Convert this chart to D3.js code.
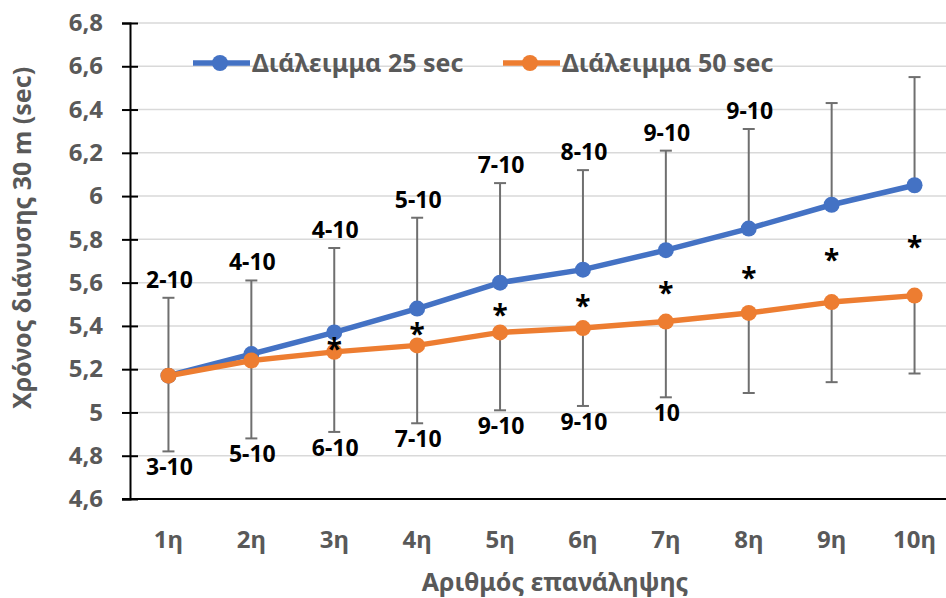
<!DOCTYPE html>
<html>
<head>
<meta charset="utf-8">
<script src="https://cdn.jsdelivr.net/npm/d3@7"></script>
<style>
  body { margin: 0; background: #fff; }
  text { font-family: "Noto Sans", "DejaVu Sans", sans-serif; }
</style>
</head>
<body>
<div id="chart"></div>
<script>
// data
var repeats = ["1η", "2η", "3η", "4η", "5η", "6η", "7η", "8η", "9η", "10η"];
var rest25 = [5.17, 5.27, 5.37, 5.48, 5.60, 5.66, 5.75, 5.85, 5.96, 6.05];
var rest50 = [5.17, 5.24, 5.28, 5.31, 5.37, 5.39, 5.42, 5.46, 5.51, 5.54];
// error bar ends: upper on 25 sec series, lower on 50 sec series
var upper25 = [5.53, 5.61, 5.76, 5.90, 6.06, 6.12, 6.21, 6.31, 6.43, 6.55];
var lower50 = [4.82, 4.88, 4.91, 4.95, 5.01, 5.03, 5.07, 5.09, 5.14, 5.18];
var upperNotes = ["2-10", "4-10", "4-10", "5-10", "7-10", "8-10", "9-10", "9-10", "", ""];
var lowerNotes = ["3-10", "5-10", "6-10", "7-10", "9-10", "9-10", "10", "", "", ""];
var stars = [false, false, true, true, true, true, true, true, true, true];
var yTicks = [4.6, 4.8, 5, 5.2, 5.4, 5.6, 5.8, 6, 6.2, 6.4, 6.6, 6.8];
var seriesNames = ["Διάλειμμα 25 sec", "Διάλειμμα 50 sec"];
var seriesColors = ["#4472C4", "#ED7D31"];

var width = 946, height = 598;
var svg = d3.select("#chart").append("svg")
  .attr("width", width)
  .attr("height", height);

var x = d3.scalePoint()
  .domain(repeats)
  .range([127, 956])
  .padding(0.5);

var y = d3.scaleLinear()
  .domain([4.6, 6.8])
  .range([499, 23]);

var grey = "#595959";

// gridlines
svg.append("g")
  .selectAll("line")
  .data(yTicks.slice(1))
  .enter()
  .append("line")
    .attr("x1", 130)
    .attr("x2", width)
    .attr("y1", function(d) { return y(d); })
    .attr("y2", function(d) { return y(d); })
    .attr("stroke", "#d9d9d9")
    .attr("stroke-width", 1.5);

// y axis (cross ticks)
var yAxis = svg.append("g")
  .attr("transform", "translate(130,0)")
  .call(d3.axisLeft(y)
    .tickValues(yTicks)
    .tickSize(8)
    .tickPadding(19)
    .tickFormat(function(d) { return String(+d.toFixed(1)).replace(".", ","); }));
yAxis.select(".domain").attr("stroke", "#000").attr("stroke-width", 2);
yAxis.selectAll(".tick line")
  .attr("x1", 8)
  .attr("stroke", "#000")
  .attr("stroke-width", 2);
yAxis.selectAll("text")
  .attr("fill", grey)
  .style("font-size", "24px")
  .style("font-weight", "bold");

// x axis line
svg.append("line")
  .attr("x1", 122).attr("x2", width)
  .attr("y1", y(4.6)).attr("y2", y(4.6))
  .attr("stroke", "#000")
  .attr("stroke-width", 2);

svg.append("g")
  .selectAll("text")
  .data(repeats)
  .enter()
  .append("text")
    .attr("x", function(d) { return x(d); })
    .attr("y", 548)
    .attr("text-anchor", "middle")
    .attr("fill", grey)
    .style("font-size", "24px")
    .style("font-weight", "bold")
    .text(function(d) { return d; });

// axis titles
svg.append("text")
  .attr("x", 555)
  .attr("y", 591)
  .attr("text-anchor", "middle")
  .attr("fill", grey)
  .style("font-size", "25px")
  .style("font-weight", "bold")
  .text("Αριθμός επανάληψης");

svg.append("text")
  .attr("transform", "translate(31,238)rotate(-90)")
  .attr("text-anchor", "middle")
  .attr("fill", grey)
  .style("font-size", "25px")
  .style("font-weight", "bold")
  .text("Χρόνος διάνυσης 30 m (sec)");

// error bars
var errGroup = svg.append("g").attr("stroke", "#6f6f6f").attr("stroke-width", 2);
repeats.forEach(function(r, i) {
  var cx = x(r);
  errGroup.append("line")
    .attr("x1", cx).attr("x2", cx)
    .attr("y1", y(rest25[i])).attr("y2", y(upper25[i]));
  errGroup.append("line")
    .attr("x1", cx - 6).attr("x2", cx + 6)
    .attr("y1", y(upper25[i])).attr("y2", y(upper25[i]));
  errGroup.append("line")
    .attr("x1", cx).attr("x2", cx)
    .attr("y1", y(rest50[i])).attr("y2", y(lower50[i]));
  errGroup.append("line")
    .attr("x1", cx - 6).attr("x2", cx + 6)
    .attr("y1", y(lower50[i])).attr("y2", y(lower50[i]));
});

// lines + markers
var line = d3.line()
  .x(function(d, i) { return x(repeats[i]); })
  .y(function(d) { return y(d); });

[rest25, rest50].forEach(function(series, s) {
  svg.append("path")
    .datum(series)
    .attr("d", line)
    .attr("fill", "none")
    .attr("stroke", seriesColors[s])
    .attr("stroke-width", 5.5)
    .attr("stroke-linejoin", "round");
  svg.append("g")
    .selectAll("circle")
    .data(series)
    .enter()
    .append("circle")
      .attr("cx", function(d, i) { return x(repeats[i]); })
      .attr("cy", function(d) { return y(d); })
      .attr("r", 8)
      .attr("fill", seriesColors[s]);
});

// annotations
var notes = svg.append("g")
  .attr("fill", "#000")
  .attr("text-anchor", "middle")
  .style("font-size", "23px")
  .style("font-weight", "bold");

repeats.forEach(function(r, i) {
  if (upperNotes[i]) {
    notes.append("text")
      .attr("x", x(r) + 1)
      .attr("y", y(upper25[i]) - 10)
      .text(upperNotes[i]);
  }
  if (lowerNotes[i]) {
    notes.append("text")
      .attr("x", x(r) + 1)
      .attr("y", y(lower50[i]) + 24)
      .text(lowerNotes[i]);
  }
  if (stars[i]) {
    notes.append("text")
      .attr("x", x(r))
      .attr("y", y((rest25[i] + rest50[i]) / 2) + 17)
      .style("font-size", "28px")
      .text("*");
  }
});

// legend
var legend = svg.append("g");
var legendX = [193, 503];
seriesNames.forEach(function(name, s) {
  var lx = legendX[s];
  legend.append("line")
    .attr("x1", lx).attr("x2", lx + 57)
    .attr("y1", 63).attr("y2", 63)
    .attr("stroke", seriesColors[s])
    .attr("stroke-width", 5.5);
  legend.append("circle")
    .attr("cx", lx + 27).attr("cy", 63).attr("r", 8)
    .attr("fill", seriesColors[s]);
  legend.append("text")
    .attr("x", lx + 59)
    .attr("y", 72)
    .attr("fill", grey)
    .style("font-size", "25px")
    .style("font-weight", "bold")
    .text(name);
});
</script>
</body>
</html>
